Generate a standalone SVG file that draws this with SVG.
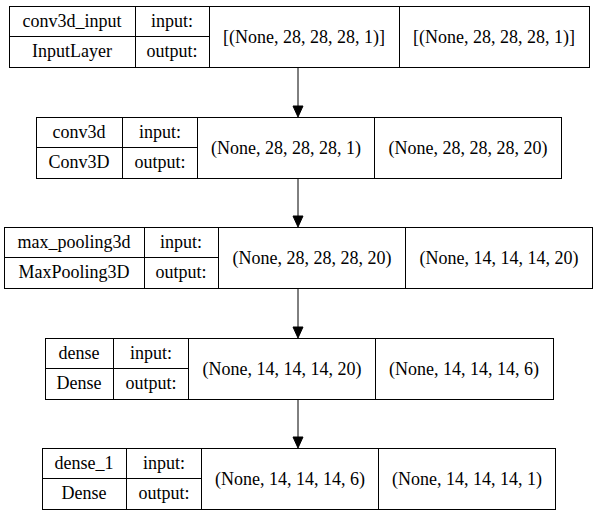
<svg xmlns="http://www.w3.org/2000/svg" width="597" height="516" viewBox="0 0 597 516">
<style>
.b, .d { fill: none; stroke: #000; stroke-width: 1; }
text { font-family: "Liberation Serif", "Times New Roman", Times, serif; font-size: 18px; fill: #000; text-anchor: middle; }
.edge line { stroke: #000; stroke-width: 1; }
.edge polygon { fill: #000; stroke: #000; }
</style>
<rect x="0" y="0" width="597" height="516" fill="#fff"/>
<g id="node-conv3d_input">
<rect class="b" x="9.5" y="6.5" width="580" height="61"/>
<line class="d" x1="9.5" y1="36.5" x2="209.5" y2="36.5"/>
<line class="d" x1="135.5" y1="6.5" x2="135.5" y2="67.5"/>
<line class="d" x1="209.5" y1="6.5" x2="209.5" y2="67.5"/>
<line class="d" x1="399.5" y1="6.5" x2="399.5" y2="67.5"/>
<text x="72" y="27">conv3d_input</text>
<text x="72" y="57">InputLayer</text>
<text x="172" y="27">input:</text>
<text x="172" y="57">output:</text>
<text x="304" y="43">[(None, 28, 28, 28, 1)]</text>
<text x="494" y="43">[(None, 28, 28, 28, 1)]</text>
</g>
<g id="node-conv3d">
<rect class="b" x="36.5" y="117.5" width="525" height="61"/>
<line class="d" x1="36.5" y1="147.5" x2="197.5" y2="147.5"/>
<line class="d" x1="122.5" y1="117.5" x2="122.5" y2="178.5"/>
<line class="d" x1="197.5" y1="117.5" x2="197.5" y2="178.5"/>
<line class="d" x1="374.5" y1="117.5" x2="374.5" y2="178.5"/>
<text x="79" y="138">conv3d</text>
<text x="79" y="168">Conv3D</text>
<text x="160" y="138">input:</text>
<text x="160" y="168">output:</text>
<text x="286" y="154">(None, 28, 28, 28, 1)</text>
<text x="468" y="154">(None, 28, 28, 28, 20)</text>
</g>
<g id="node-max_pooling3d">
<rect class="b" x="4.5" y="227.5" width="588" height="61"/>
<line class="d" x1="4.5" y1="257.5" x2="218.5" y2="257.5"/>
<line class="d" x1="144.5" y1="227.5" x2="144.5" y2="288.5"/>
<line class="d" x1="218.5" y1="227.5" x2="218.5" y2="288.5"/>
<line class="d" x1="405.5" y1="227.5" x2="405.5" y2="288.5"/>
<text x="74" y="248">max_pooling3d</text>
<text x="74" y="278">MaxPooling3D</text>
<text x="181" y="248">input:</text>
<text x="181" y="278">output:</text>
<text x="312" y="264">(None, 28, 28, 28, 20)</text>
<text x="499" y="264">(None, 14, 14, 14, 20)</text>
</g>
<g id="node-dense">
<rect class="b" x="45.5" y="338.5" width="508" height="61"/>
<line class="d" x1="45.5" y1="368.5" x2="188.5" y2="368.5"/>
<line class="d" x1="113.5" y1="338.5" x2="113.5" y2="399.5"/>
<line class="d" x1="188.5" y1="338.5" x2="188.5" y2="399.5"/>
<line class="d" x1="375.5" y1="338.5" x2="375.5" y2="399.5"/>
<text x="79" y="359">dense</text>
<text x="79" y="389">Dense</text>
<text x="151" y="359">input:</text>
<text x="151" y="389">output:</text>
<text x="282" y="375">(None, 14, 14, 14, 20)</text>
<text x="464" y="375">(None, 14, 14, 14, 6)</text>
</g>
<g id="node-dense_1">
<rect class="b" x="42.5" y="448.5" width="513" height="61"/>
<line class="d" x1="42.5" y1="478.5" x2="201.5" y2="478.5"/>
<line class="d" x1="126.5" y1="448.5" x2="126.5" y2="509.5"/>
<line class="d" x1="201.5" y1="448.5" x2="201.5" y2="509.5"/>
<line class="d" x1="378.5" y1="448.5" x2="378.5" y2="509.5"/>
<text x="84" y="469">dense_1</text>
<text x="84" y="499">Dense</text>
<text x="164" y="469">input:</text>
<text x="164" y="499">output:</text>
<text x="290" y="485">(None, 14, 14, 14, 6)</text>
<text x="467" y="485">(None, 14, 14, 14, 1)</text>
</g>
<g id="connectors" class="edge">
<line x1="298" y1="67.5" x2="298" y2="107"/>
<polygon points="293,106 303,106 298,117"/>
<line x1="298" y1="178.5" x2="298" y2="217"/>
<polygon points="293,216 303,216 298,227"/>
<line x1="298" y1="288.5" x2="298" y2="328"/>
<polygon points="293,327 303,327 298,338"/>
<line x1="298" y1="399.5" x2="298" y2="438"/>
<polygon points="293,437 303,437 298,448"/>
</g>
</svg>
